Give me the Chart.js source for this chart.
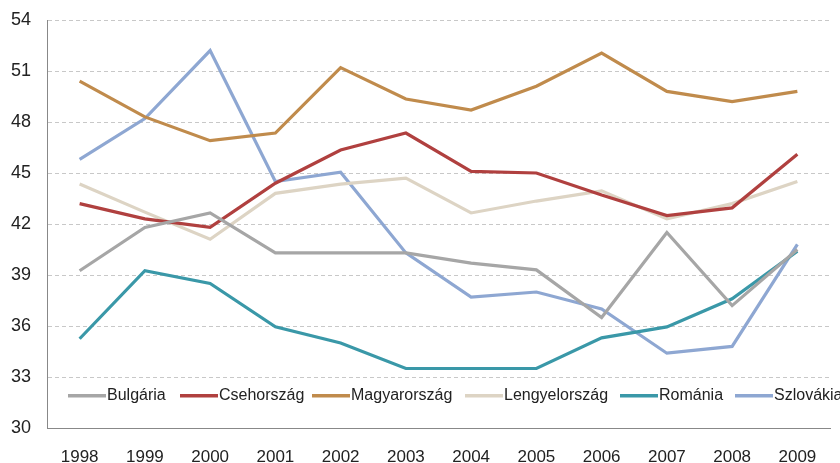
<!DOCTYPE html>
<html><head><meta charset="utf-8">
<script src="https://cdn.jsdelivr.net/npm/chart.js@4"></script>
<style>html,body{margin:0;padding:0;background:#fff}#wrap{width:840px;height:463px}</style>
</head><body><div id="wrap"><canvas id="c" width="840" height="463"></canvas></div>
<script>
const years = ["1998","1999","2000","2001","2002","2003","2004","2005","2006","2007","2008","2009"];
const bulgaria = [39.25,41.8,42.65,40.3,40.3,40.3,39.7,39.3,36.5,41.5,37.2,40.5];
const csehorszag = [43.2,42.3,41.8,44.4,46.35,47.35,45.1,45.0,43.7,42.5,42.95,46.1];
const magyarorszag = [50.4,48.3,46.9,47.35,51.2,49.35,48.7,50.1,52.05,49.8,49.2,49.8];
const lengyelorszag = [44.35,42.7,41.1,43.8,44.35,44.7,42.65,43.35,43.95,42.3,43.2,44.5];
const romania = [35.25,39.25,38.5,35.95,35.0,33.5,33.5,33.5,35.3,35.95,37.6,40.4];
const szlovakia = [45.8,48.2,52.2,44.5,45.05,40.3,37.7,38.0,37.0,34.4,34.8,40.8];
const yTicks = [30,33,36,39,42,45,48,51,54];

const FONT = "'Liberation Sans',Arial,sans-serif";
const series = [
  {label:"Bulgária", data:bulgaria, color:"#a6a6a6"},
  {label:"Csehország", data:csehorszag, color:"#b0403f"},
  {label:"Magyarország", data:magyarorszag, color:"#c08b4c"},
  {label:"Lengyelország", data:lengyelorszag, color:"#ddd4c4"},
  {label:"Románia", data:romania, color:"#3a98a8"},
  {label:"Szlovákia", data:szlovakia, color:"#8ea7d2"}
];

const legendPlugin = {
  id:"inlineLegend",
  afterDatasetsDraw(chart){
    const ctx = chart.ctx;
    const y = chart.scales.y.getPixelForValue(31.9);
    const starts = [68,180,312,465,620,735];
    ctx.save();
    ctx.font = "16px " + FONT;
    ctx.textBaseline = "middle";
    chart.data.datasets.forEach((ds,i)=>{
      const x = starts[i];
      ctx.strokeStyle = ds.borderColor;
      ctx.lineWidth = 3.5;
      ctx.beginPath(); ctx.moveTo(x,y); ctx.lineTo(x+38,y); ctx.stroke();
      ctx.fillStyle = "#222";
      ctx.fillText(ds.label, x+39, y);
    });
    ctx.restore();
  }
};

new Chart(document.getElementById("c"), {
  type:"line",
  data:{
    labels:years,
    datasets:series.map(s=>({label:s.label,data:s.data,borderColor:s.color,backgroundColor:s.color,borderWidth:3.2,pointRadius:0,tension:0,fill:false}))
  },
  options:{
    responsive:false, animation:false,
    layout:{padding:{top:20,right:10,left:0,bottom:0}},
    plugins:{legend:{display:false},tooltip:{enabled:false}},
    scales:{
      x:{
        offset:true,
        grid:{display:false,drawTicks:false},
        border:{display:true,color:"#888",width:1},
        ticks:{color:"#222",font:{family:FONT,size:17},padding:19},
        afterFit(s){s.height=35;}
      },
      y:{
        min:30,max:54,
        afterBuildTicks(s){s.ticks=yTicks.map(v=>({value:v}));},
        grid:{color:"#c8c8c8",drawTicks:false},
        border:{display:true,color:"#888",width:1,dash:[4,3]},
        ticks:{color:"#222",font:{family:FONT,size:18},padding:16},
        afterFit(s){s.width=47;s.paddingTop=10;s.paddingBottom=10;}
      }
    }
  },
  plugins:[legendPlugin]
});
</script></body></html>
